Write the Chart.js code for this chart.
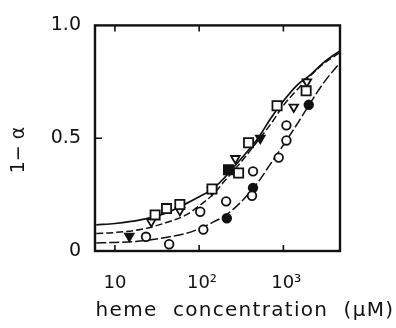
<!DOCTYPE html>
<html>
<head>
<meta charset="utf-8">
<script src="https://cdn.jsdelivr.net/npm/chart.js@4"></script>
<style>
  html, body { margin: 0; padding: 0; background: #fff; }
  #c { display: block; }
</style>
</head>
<body>
<canvas id="c" width="396" height="328"></canvas>
<script>
// Fitted binding curves, sampled along heme concentration (µM)
const curveConc   = [6, 10, 20, 40, 70, 100, 150, 200, 300, 500, 700, 1000, 1500, 2000, 3000, 4700];
const fitUpper    = [0.116, 0.122, 0.138, 0.168, 0.21, 0.24, 0.28, 0.325, 0.40, 0.50, 0.585, 0.665, 0.74, 0.775, 0.835, 0.888];
const fitMiddle   = [0.078, 0.082, 0.095, 0.125, 0.16, 0.20, 0.255, 0.31, 0.385, 0.49, 0.56, 0.645, 0.72, 0.77, 0.83, 0.88];
const fitLower    = [0.036, 0.038, 0.044, 0.06, 0.078, 0.098, 0.13, 0.155, 0.21, 0.305, 0.385, 0.47, 0.57, 0.645, 0.745, 0.835];

// Measured points: concentration (µM) and 1 - alpha
const openSquareConc = [30, 41, 59, 142, 294, 386, 841, 1862];
const openSquareVal  = [0.16, 0.188, 0.206, 0.275, 0.346, 0.48, 0.644, 0.71];
const filledSquareConc = [223];
const filledSquareVal  = [0.36];
const openTriConc = [27, 59, 142, 269, 1328, 1900];
const openTriVal  = [0.13, 0.18, 0.27, 0.41, 0.638, 0.75];
const filledTriConc = [14.8, 532];
const filledTriVal  = [0.066, 0.50];
const openCircleConc = [23.4, 44, 103, 112, 209, 436, 424, 880, 1086, 1086];
const openCircleVal  = [0.063, 0.03, 0.174, 0.095, 0.22, 0.353, 0.245, 0.414, 0.49, 0.557];
const filledCircleConc = [213, 436, 2000];
const filledCircleVal  = [0.145, 0.28, 0.648];

// Axis ticks
const xTickValues = [10, 100, 1000];
const xTickLabels = ['10', ' 10\u00B2', ' 10\u00B3'];
const yTickValues = [0, 0.5, 1.0];
const yTickLabels = ['0', '0.5', '1.0'];

const INK = '#111';
const FONT = 'DejaVu Sans, Arial, sans-serif';

const pts = (xs, ys) => xs.map((x, i) => ({ x, y: ys[i] }));

function curve(values, dash, width) {
  return {
    data: pts(curveConc, values),
    showLine: true,
    borderColor: INK,
    borderWidth: width,
    borderDash: dash,
    pointRadius: 0,
    cubicInterpolationMode: 'monotone',
    order: 2
  };
}

function markers(xs, ys, style, radius, fill, rotation) {
  return {
    data: pts(xs, ys),
    pointStyle: style,
    pointRadius: radius,
    pointRotation: rotation || 0,
    pointBackgroundColor: fill,
    pointBorderColor: INK,
    pointBorderWidth: 1.8,
    showLine: false,
    order: 1
  };
}

// Boxed frame with inward tick marks and the two axis titles
const framePlugin = {
  id: 'frame',
  afterDraw(chart) {
    const { ctx, chartArea: a, scales } = chart;
    ctx.save();
    ctx.strokeStyle = INK;
    ctx.lineWidth = 1.6;
    ctx.beginPath();
    xTickValues.forEach(v => {
      const px = scales.x.getPixelForValue(v);
      ctx.moveTo(px, a.bottom); ctx.lineTo(px, a.bottom - 6);
      ctx.moveTo(px, a.top);    ctx.lineTo(px, a.top + 6);
    });
    const py = scales.y.getPixelForValue(0.5);
    ctx.moveTo(a.left, py); ctx.lineTo(a.left + 7, py);
    ctx.stroke();

    ctx.lineWidth = 2.4;
    ctx.strokeRect(a.left, a.top, a.right - a.left, a.bottom - a.top);

    ctx.fillStyle = INK;
    ctx.font = '20px ' + FONT;
    ctx.textAlign = 'center';
    ctx.textBaseline = 'middle';
    ctx.letterSpacing = '1.3px';
    ctx.fillText('heme  concentration  (\u03BCM)', 245, 311);
    ctx.letterSpacing = '0px';

    ctx.font = '19px ' + FONT;
    ctx.translate(19, 150);
    ctx.rotate(-Math.PI / 2);
    ctx.fillText('1\u2212 \u03B1', 0, 0);
    ctx.restore();
  }
};

new Chart(document.getElementById('c'), {
  type: 'scatter',
  data: {
    datasets: [
      curve(fitUpper, [], 1.7),
      curve(fitMiddle, [7, 3], 1.5),
      curve(fitLower, [10, 3], 1.5),
      markers(openSquareConc, openSquareVal, 'rect', 6.5, '#fff'),
      markers(filledSquareConc, filledSquareVal, 'rect', 6.5, INK),
      markers(openTriConc, openTriVal, 'triangle', 5, '#fff', 180),
      markers(filledTriConc, filledTriVal, 'triangle', 5, INK, 180),
      markers(openCircleConc, openCircleVal, 'circle', 4.3, '#fff'),
      markers(filledCircleConc, filledCircleVal, 'circle', 4.3, INK)
    ]
  },
  options: {
    responsive: false,
    animation: false,
    devicePixelRatio: 1,
    layout: { padding: { left: 0, right: 56, top: 20, bottom: 0 } },
    plugins: {
      legend: { display: false },
      tooltip: { enabled: false },
      title: { display: false }
    },
    scales: {
      x: {
        type: 'logarithmic',
        min: 5.8,
        max: 4700,
        grid: { display: false, drawTicks: false },
        border: { display: false },
        afterBuildTicks: s => { s.ticks = xTickValues.map(v => ({ value: v })); },
        afterFit: s => { s.height = 77; },
        ticks: {
          color: INK,
          font: { family: FONT, size: 18 },
          padding: 22,
          maxRotation: 0,
          autoSkip: false,
          callback: (v) => xTickLabels[xTickValues.indexOf(v)] ?? ''
        }
      },
      y: {
        type: 'linear',
        min: 0,
        max: 1,
        grid: { display: false, drawTicks: false },
        border: { display: false },
        afterBuildTicks: s => { s.ticks = yTickValues.map(v => ({ value: v })); },
        afterFit: s => { s.width = 95; },
        ticks: {
          color: INK,
          font: { family: FONT, size: 19 },
          padding: 14,
          callback: (v) => yTickLabels[yTickValues.indexOf(v)] ?? ''
        }
      }
    }
  },
  plugins: [framePlugin]
});
</script>
</body>
</html>
